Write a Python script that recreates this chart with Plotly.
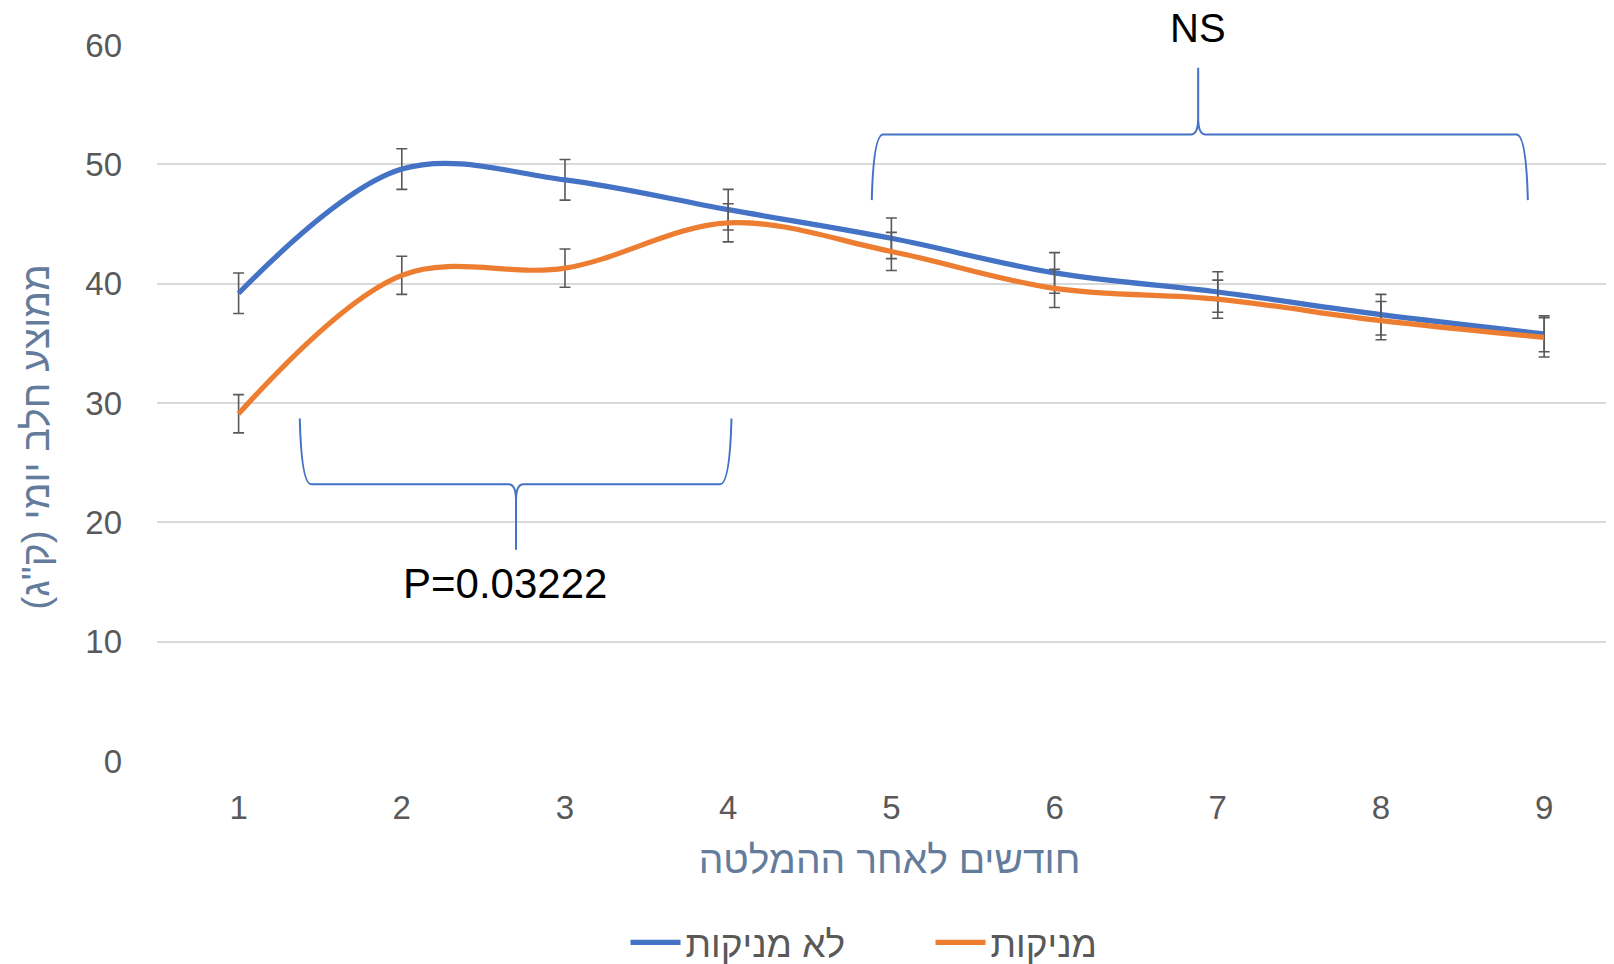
import plotly.graph_objects as go

months = [1, 2, 3, 4, 5, 6, 7, 8, 9]

# ממוצע חלב יומי (ק"ג)
not_nursing = [39.2, 49.6, 48.7, 46.2, 43.8, 40.9, 39.3, 37.4, 35.8]
not_nursing_err = [1.7, 1.7, 1.7, 1.7, 1.7, 1.7, 1.7, 1.7, 1.5]
nursing = [29.1, 40.7, 41.3, 45.1, 42.7, 39.6, 38.7, 36.9, 35.5]
nursing_err = [1.6, 1.6, 1.6, 1.6, 1.6, 1.6, 1.6, 1.6, 1.65]

# braces: x start, x end, x of tip, y of arms, y of bar, y of tip
brace_low = [1.375, 4.02, 2.70, 28.7, 23.2, 17.7]
brace_high = [4.88, 8.90, 6.88, 47.0, 52.5, 58.1]

p_label = "P=0.03222"
p_pos = [2.63, 14.9]
ns_label = "NS"
ns_pos = [6.88, 61.45]

y_title = "ממוצע חלב יומי (ק\"ג)\u200f"
x_title = "חודשים לאחר ההמלטה"

Y_MAX = 60

BLUE = "#4472C4"
ORANGE = "#ED7D31"
GREY = "#595959"
TITLE_COL = "#647C9C"
FONT = "Liberation Sans, DejaVu Sans, Arial, sans-serif"


def brace_path(b):
    x0, x1, xc, ya, yb, yt = b
    dx = 0.07
    ds = 0.045
    ym = yb + (yt - yb) * 0.25
    return (f"M {x0},{ya} Q {x0 + 0.01},{yb} {x0 + dx},{yb} "
            f"L {xc - ds},{yb} Q {xc},{yb} {xc},{ym} L {xc},{yt} "
            f"M {xc},{ym} Q {xc},{yb} {xc + ds},{yb} "
            f"L {x1 - dx},{yb} Q {x1 - 0.01},{yb} {x1},{ya}")


err_style = dict(type="data", thickness=1.6, width=5.5, color=GREY)

fig = go.Figure()
fig.add_trace(go.Scatter(
    x=months, y=not_nursing, name="לא מניקות", mode="lines",
    line=dict(color=BLUE, width=5.2, shape="spline", smoothing=1.0),
    error_y=dict(array=not_nursing_err, **err_style)))
fig.add_trace(go.Scatter(
    x=months, y=nursing, name="מניקות", mode="lines",
    line=dict(color=ORANGE, width=5.2, shape="spline", smoothing=1.0),
    error_y=dict(array=nursing_err, **err_style)))

for b in (brace_low, brace_high):
    fig.add_shape(type="path", xref="x", yref="y", path=brace_path(b),
                  line=dict(color=BLUE, width=2))

fig.add_annotation(x=p_pos[0], y=p_pos[1], text=p_label, showarrow=False,
                   font=dict(family=FONT, size=42, color="black"))
fig.add_annotation(x=ns_pos[0], xref="x", y=ns_pos[1] / Y_MAX, yref="paper",
                   xanchor="center", yanchor="middle", height=34, borderpad=0,
                   text=ns_label, showarrow=False,
                   font=dict(family=FONT, size=40, color="black"))
# y axis title sits a bit below the plot centre, as in the original
fig.add_annotation(x=-0.0826, xref="paper", y=0.453, yref="paper",
                   xanchor="center", yanchor="middle", textangle=-90,
                   text=y_title, showarrow=False,
                   font=dict(family=FONT, size=39, color=TITLE_COL))

fig.update_layout(
    width=1614, height=964,
    margin=dict(l=149, r=0, t=37, b=211, autoexpand=False),
    paper_bgcolor="white", plot_bgcolor="white",
    font=dict(family=FONT, color=GREY),
    showlegend=True,
    legend=dict(orientation="h", x=0.528, xanchor="center", y=-0.254, yanchor="middle",
                font=dict(size=37, color=GREY), itemwidth=50,
                entrywidth=240, entrywidthmode="pixels"),
    xaxis=dict(range=[0.5, 9.477], tickvals=months, showgrid=False, zeroline=False,
               showline=False, ticks="", tickfont=dict(size=33, color=GREY),
               ticklabelstandoff=24, automargin=False,
               title=dict(text=x_title, standoff=20,
                          font=dict(size=39, color=TITLE_COL))),
    yaxis=dict(range=[0, Y_MAX], dtick=10, showgrid=True, gridcolor="#D9D9D9", gridwidth=1.5,
               zeroline=False, showline=False, ticks="", automargin=False,
               tickfont=dict(size=33, color=GREY), ticklabelstandoff=34),
)

fig.write_html("out.html")
